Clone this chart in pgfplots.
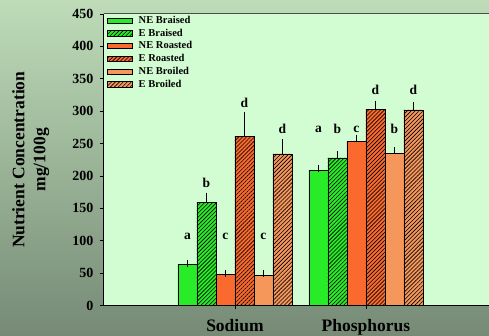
\documentclass[border=0pt]{standalone}
\usepackage{pgfplots}
\pgfplotsset{compat=1.18}
\usepackage{fontspec}
\setmainfont{Liberation Serif}
\usetikzlibrary{patterns.meta}

\definecolor{cgreen}{RGB}{40,236,40}
\definecolor{corange}{RGB}{250,105,45}
\definecolor{clight}{RGB}{245,150,90}
\definecolor{plotbg}{RGB}{210,252,210}
\definecolor{bgtop}{RGB}{190,220,184}
\definecolor{bgbot}{RGB}{118,138,118}

\pgfplotsset{
  mybar/.style={ybar, bar width=0.145, bar shift=0pt, draw=black, line width=0.6pt,
    legend image code/.code={\draw[##1, draw=black, line width=0.6pt] (0pt,-2.6pt) rectangle (25pt,2.6pt);},
    error bars/y dir=plus, error bars/y explicit,
    error bars/error bar style={black, line width=0.8pt},
    error bars/error mark options={black, mark size=3.5pt, line width=0.8pt}},
  hatch/.style={postaction={pattern={Lines[angle=45,distance=2.8pt,line width=0.6pt]}, pattern color=black}},
}

\begin{document}
\begin{tikzpicture}[x=1pt,y=1pt]
\useasboundingbox (-104,-30.5) rectangle (385,305.5);
\shade[top color=bgtop, bottom color=bgbot] (-104,-30.5) rectangle (385,305.5);
\begin{axis}[
  at={(0,0)}, anchor=south west,
  scale only axis, width=385pt, height=291.5pt,
  xmin=0, xmax=2.94, ymin=0, ymax=450,
  axis background/.style={fill=plotbg},
  axis x line*=bottom, axis y line*=left,
  axis line style={black, line width=1pt},
  ytick={0,50,...,450},
  xtick={1,2}, xticklabels={Sodium,Phosphorus},
  tick align=outside, major tick length=4pt,
  tick style={black, line width=0.8pt},
  /pgf/number format/assume math mode=true,
  yticklabel style={font=\bfseries\fontsize{14}{14}\selectfont, xshift=-3pt},
  xticklabel style={font=\bfseries\fontsize{17.5}{19}\selectfont, yshift=-6.5pt},
  ylabel={Nutrient Concentration\\mg/100g},
  ylabel style={align=center, font=\bfseries\fontsize{17.5}{21}\selectfont,
    at={(axis description cs:-0.19,0.5)}, anchor=center},
  legend style={at={(axis description cs:0.005,1.004)}, anchor=north west,
    draw=none, fill=none, font=\bfseries\fontsize{10.5}{12}\selectfont,
    row sep=0pt, column sep=4pt, cells={anchor=west}, inner sep=1pt},
  clip=false,
]
\draw[black!70, line width=1pt] (rel axis cs:0,1) -- (rel axis cs:1,1);

\addplot[mybar, fill=cgreen] coordinates {(0.6375,63) +- (0,1.5) (1.6375,209) +- (0,3)};
\addlegendentry{NE Braised}
\addplot[mybar, fill=cgreen, hatch] coordinates {(0.7825,159) +- (0,10) (1.7825,228) +- (0,5)};
\addlegendentry{E Braised}
\addplot[mybar, fill=corange] coordinates {(0.9275,48) +- (0,1) (1.9275,253) +- (0,5)};
\addlegendentry{NE Roasted}
\addplot[mybar, fill=corange, hatch] coordinates {(1.0725,261) +- (0,33) (2.0725,303) +- (0,8)};
\addlegendentry{E Roasted}
\addplot[mybar, fill=clight] coordinates {(1.2175,47) +- (0,2) (2.2175,235) +- (0,4)};
\addlegendentry{NE Broiled}
\addplot[mybar, fill=clight, hatch] coordinates {(1.3625,234) +- (0,17) (2.3625,302) +- (0,7)};
\addlegendentry{E Broiled}

\begin{scope}[every node/.style={font=\bfseries\fontsize{13.5}{13.5}\selectfont, anchor=center}]
\node at (axis cs:0.6375,107) {a};
\node at (axis cs:0.7825,189) {b};
\node at (axis cs:0.9275,107) {c};
\node at (axis cs:1.0725,313) {d};
\node at (axis cs:1.2175,107) {c};
\node at (axis cs:1.3625,272) {d};
\node at (axis cs:1.6375,272) {a};
\node at (axis cs:1.7825,272) {b};
\node at (axis cs:1.9275,272) {c};
\node at (axis cs:2.0725,333) {d};
\node at (axis cs:2.2175,272) {b};
\node at (axis cs:2.3625,333) {d};
\end{scope}
\end{axis}
\end{tikzpicture}
\end{document}
